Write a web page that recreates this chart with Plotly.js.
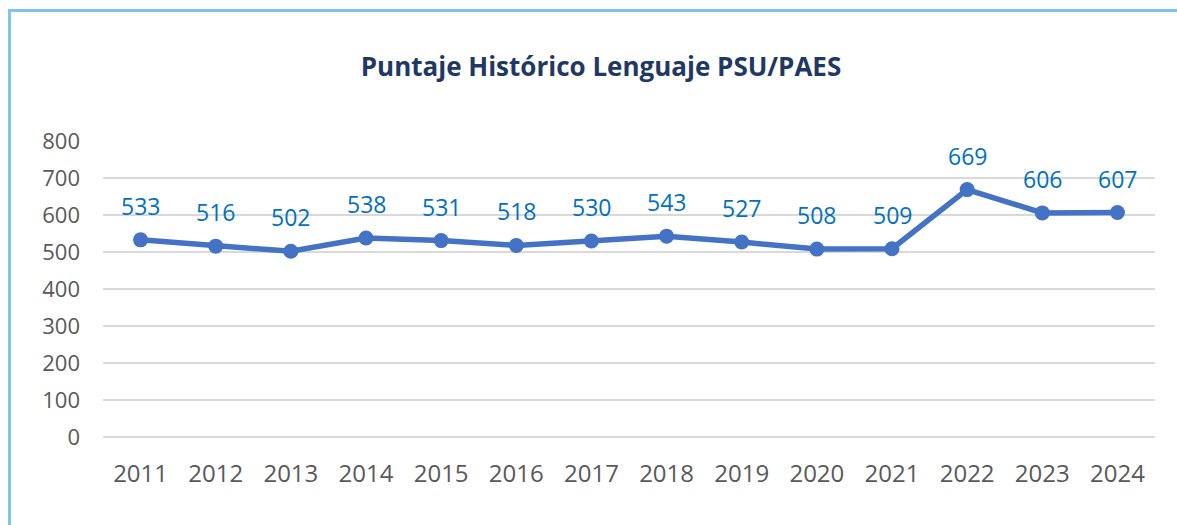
<!DOCTYPE html>
<html>
<head>
<meta charset="utf-8">
<script src="https://cdn.plot.ly/plotly-3.0.1.min.js"></script>
<style>
  html, body { margin: 0; padding: 0; background: #fff; }
  #wrap { position: relative; width: 1177px; height: 525px; }
  #chart { position: absolute; left: 0; top: 0; width: 1177px; height: 525px; }
  #frame { position: absolute; left: 8px; top: 9px; width: 1169px; height: 516px;
           border-left: 3px solid #7DC6EA; border-top: 3px solid #7DC6EA; box-sizing: border-box;
           pointer-events: none; }
</style>
</head>
<body>
<div id="wrap">
  <div id="chart"></div>
  <div id="frame"></div>
</div>
<script>
const years = ['2011','2012','2013','2014','2015','2016','2017','2018','2019','2020','2021','2022','2023','2024'];
const scores = [533, 516, 502, 538, 531, 518, 530, 543, 527, 508, 509, 669, 606, 607];
const yTicks = [0, 100, 200, 300, 400, 500, 600, 700, 800];
const titleText = 'Puntaje Histórico Lenguaje PSU/PAES';

const FONT = '"Open Sans", "Noto Sans", sans-serif';

const trace = {
  type: 'scatter',
  mode: 'lines+markers',
  x: years,
  y: scores,
  line: { color: '#4472C4', width: 5.5 },
  marker: { color: '#4472C4', size: 15 },
  hoverinfo: 'x+y',
  cliponaxis: false
};

const annotations = years.map((yr, i) => ({
  x: i, y: scores[i], xref: 'x', yref: 'y',
  text: String(scores[i]), showarrow: false,
  xanchor: 'center', yanchor: 'middle', yshift: 34,
  font: { family: FONT, size: 23, color: '#0070C0' }
}));

const layout = {
  width: 1177, height: 525,
  margin: { l: 103, r: 22, t: 141, b: 88 },
  paper_bgcolor: '#ffffff', plot_bgcolor: '#ffffff',
  showlegend: false,
  title: {
    text: '<b>' + titleText + '</b>',
    font: { family: FONT, size: 26, color: '#1F3864' },
    x: 601 / 1177, xref: 'container', xanchor: 'center',
    y: 1 - 67 / 525, yref: 'container', yanchor: 'middle'
  },
  xaxis: {
    type: 'category',
    categoryorder: 'array', categoryarray: years,
    range: [-0.5, years.length - 0.5],
    showgrid: false, zeroline: false,
    showline: false,
    ticks: '',
    ticklabelstandoff: 20,
    tickfont: { family: FONT, size: 24, color: '#595959' }
  },
  yaxis: {
    range: [-0.5, 800.5],
    tickvals: yTicks,
    ticktext: yTicks.map(String),
    showgrid: true, gridcolor: '#D9D9D9', gridwidth: 1.5,
    zeroline: true, zerolinecolor: '#D9D9D9', zerolinewidth: 1.5,
    showline: false, ticks: '',
    ticklabelstandoff: 22,
    tickfont: { family: FONT, size: 22, color: '#595959' }
  },
  annotations: annotations
};

Plotly.newPlot('chart', [trace], layout, { displayModeBar: false, staticPlot: true });
</script>
</body>
</html>
